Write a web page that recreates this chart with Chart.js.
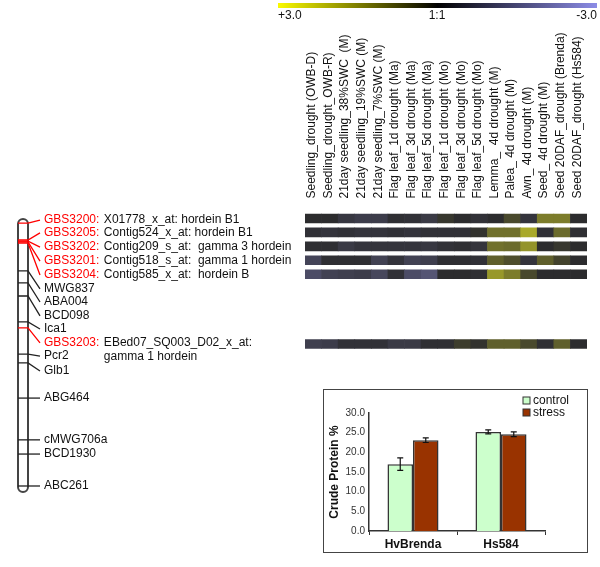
<!DOCTYPE html>
<html>
<head>
<meta charset="utf-8">
<script src="https://cdn.jsdelivr.net/npm/chart.js@4.4.1/dist/chart.umd.min.js"></script>
<style>
  body { margin: 0; background: #fff; }
  #wrap { position: relative; width: 600px; height: 567px; overflow: hidden; }
  #wrap canvas { position: absolute; left: 0; top: 0; }
  #box { position: absolute; left: 323px; top: 389px; width: 263px; height: 162px; border: 1.5px solid #444; }
</style>
</head>
<body>
<div id="wrap">
  <div id="box"></div>
  <canvas id="mapChart" width="600" height="567"></canvas>
  <canvas id="heatChart" width="600" height="567"></canvas>
  <canvas id="barChart" width="600" height="567"></canvas>
</div>
<script>
// genetic map (positions in cM from the top of the chromosome)
var markerNames = ['GBS3200', 'GBS3205', 'GBS3202', 'GBS3201', 'GBS3204', 'MWG837', 'ABA004', 'BCD098',
  'Ica1', 'GBS3203', 'Pcr2', 'Glb1', 'ABG464', 'cMWG706a', 'BCD1930', 'ABC261']
var markerPos = [1.5, 7.7, 8.1, 8.4, 8.8, 19.0, 23.4, 28.2, 37.7, 39.9, 49.5, 52.7, 65.6, 80.9, 86.1, 97.8]
var labelPos = [0.4, 5.1, 10.3, 15.4, 20.5, 25.6, 30.4, 35.5, 40.3, 45.4, 50.2, 55.7, 65.6, 80.9, 86.1, 97.8]
var probeNames = ['X01778_x_at: hordein B1', 'Contig524_x_at: hordein B1', 'Contig209_s_at:  gamma 3 hordein',
  'Contig518_s_at:  gamma 1 hordein', 'Contig585_x_at:  hordein B', '', '', '', '',
  'EBed07_SQ003_D02_x_at:\ngamma 1 hordein', '', '', '', '', '', '']

// heatmap columns and rows (log ratio, +3 yellow .. -3 blue)
var conditions = ['Seedling_drought (OWB-D)', 'Seedling_drought_OWB-R)', '21day seedling_38%SWC  (M)',
  '21day seedling_19%SWC (M)', '21day seedling_7%SWC (M)', 'Flag leaf_1d drought (Ma)',
  'Flag leaf_3d drought (Ma)', 'Flag leaf_5d drought (Ma)', 'Flag leaf_1d drought (Mo)',
  'Flag leaf_3d drought (Mo)', 'Flag leaf_5d drought (Mo)', 'Lemma_  4d drought (M)',
  'Palea_ 4d drought (M)', 'Awn_ 4d drought (M)', 'Seed_ 4d drought (M)',
  'Seed 20DAF_drought (Brenda)', 'Seed 20DAF_drought (Hs584)']
var heatSlots = [0, 1, 2, 3, 4, 9]
var rowGBS3200 = [0, 0, -0.4, -0.6, -0.6, -0.1, -0.2, -0.5, 0.2, 0, -0.2, 0, 0.5, -0.3, 1.4, 1.4, 0]
var rowGBS3205 = [-0.2, -0.3, -0.2, -0.3, -0.3, -0.2, -0.3, -0.2, -0.2, -0.2, 0.1, 1.2, 1.2, 2.2, -0.2, 1.1, -0.1]
var rowGBS3202 = [-0.1, -0.1, -0.5, -0.3, -0.3, -0.3, -0.3, -0.4, -0.2, -0.1, -0.3, 1.2, 1.1, 1.8, 0, 0.2, 0]
var rowGBS3201 = [-0.9, -0.1, -0.1, -0.1, -0.8, -0.3, -0.8, -0.7, -0.1, -0.1, -0.2, 0.9, 0.6, -0.3, 0.9, 0.4, 0]
var rowGBS3204 = [-1.2, -0.8, -0.7, -0.6, -1.0, -0.2, -1.2, -1.5, 0, 0, -0.1, 1.9, 1.4, 0.5, 0, 0, 0]
var rowGBS3203 = [-0.7, -0.6, -0.2, -0.2, -0.2, -0.5, -0.5, -0.1, -0.1, 0.3, 0.1, 0.9, 0.9, 0.5, -0.1, 0.9, 0]
var heatRows = [rowGBS3200, rowGBS3205, rowGBS3202, rowGBS3201, rowGBS3204, rowGBS3203]

// crude protein inset
var groups = ['HvBrenda', 'Hs584']
var controlVals = [17.0, 25.2]
var stressVals = [23.1, 24.6]
var controlErr = [1.6, 0.5]
var stressErr = [0.6, 0.6]

Chart.defaults.font.family = '"Liberation Sans", Arial, sans-serif'
Chart.defaults.font.size = 12
Chart.defaults.color = '#111'

function heatColor(v) {
  var base = [44, 44, 46]
  var end = v >= 0 ? [215, 215, 40] : [125, 125, 185]
  var t = Math.min(Math.abs(v) / 3, 1)
  var c = base.map((b, i) => Math.round(b + (end[i] - b) * t))
  return 'rgb(' + c.join(',') + ')'
}

// ---- genetic map ----
var chromPlugin = {
  id: 'chrom',
  beforeDatasetsDraw(chart) {
    var xs = chart.scales.x, ys = chart.scales.y, ctx = chart.ctx
    var x0 = xs.getPixelForValue(0), x1 = xs.getPixelForValue(1)
    var y0 = ys.getPixelForValue(0), y1 = ys.getPixelForValue(100)
    var r = (x1 - x0) / 2
    ctx.save()
    ctx.strokeStyle = '#444'
    ctx.lineWidth = 2
    ctx.beginPath()
    ctx.moveTo(x0, y0 + r)
    ctx.arc(x0 + r, y0 + r, r, Math.PI, 0)
    ctx.lineTo(x1, y1 - r)
    ctx.arc(x0 + r, y1 - r, r, 0, Math.PI)
    ctx.closePath()
    ctx.stroke()
    ctx.restore()
  },
  afterDraw(chart) {
    var xs = chart.scales.x, ys = chart.scales.y, ctx = chart.ctx
    ctx.save()
    ctx.font = '12px "Liberation Sans", Arial, sans-serif'
    ctx.textBaseline = 'middle'
    markerNames.forEach((name, i) => {
      var x = xs.getPixelForValue(2.6), y = ys.getPixelForValue(labelPos[i])
      var gbs = name.startsWith('GBS')
      var txt = gbs ? name + ':' : name
      ctx.fillStyle = gbs ? '#ff0000' : '#111'
      ctx.fillText(txt, x, y)
      if (probeNames[i]) {
        var dx = x + ctx.measureText(txt).width + 4.5
        ctx.fillStyle = '#111'
        probeNames[i].split('\n').forEach((line, k) => ctx.fillText(line, dx, y + k * 14))
      }
    })
    ctx.restore()
  }
}

new Chart(document.getElementById('mapChart'), {
  type: 'scatter',
  data: {
    datasets: markerNames.map((n, i) => ({
      data: [{x: 0, y: markerPos[i]}, {x: 1, y: markerPos[i]}, {x: 2.2, y: labelPos[i]}],
      showLine: true,
      pointRadius: 0,
      borderWidth: 1.3,
      borderColor: n.startsWith('GBS') ? '#ff0000' : '#222'
    }))
  },
  options: {
    responsive: false,
    animation: false,
    layout: {padding: {left: 18, right: 552, top: 219, bottom: 75}},
    plugins: {legend: {display: false}, tooltip: {enabled: false}},
    scales: {
      x: {display: false, min: 0, max: 3},
      y: {display: false, min: 0, max: 100, reverse: true}
    }
  },
  plugins: [chromPlugin]
})

// ---- heatmap ----
var scaleBarPlugin = {
  id: 'scaleBar',
  afterDraw(chart) {
    var ctx = chart.ctx
    ctx.save()
    var g = ctx.createLinearGradient(278, 0, 597, 0)
    g.addColorStop(0, 'rgb(250,250,0)')
    g.addColorStop(0.5, '#000')
    g.addColorStop(1, 'rgb(140,140,230)')
    ctx.fillStyle = g
    ctx.fillRect(278, 3, 319, 5)
    ctx.fillStyle = '#111'
    ctx.font = '12px "Liberation Sans", Arial, sans-serif'
    ctx.textBaseline = 'middle'
    ctx.textAlign = 'left'
    ctx.fillText('+3.0', 278, 16)
    ctx.textAlign = 'center'
    ctx.fillText('1:1', 437, 16)
    ctx.textAlign = 'right'
    ctx.fillText('-3.0', 597, 16)
    ctx.restore()
  }
}

new Chart(document.getElementById('heatChart'), {
  type: 'bar',
  data: {
    labels: conditions,
    datasets: heatRows.map((vals, r) => ({
      data: vals.map(() => [heatSlots[r] - 0.32, heatSlots[r] + 0.32]),
      backgroundColor: vals.map(heatColor),
      borderWidth: 0,
      grouped: false,
      barPercentage: 1,
      categoryPercentage: 1
    }))
  },
  options: {
    responsive: false,
    animation: false,
    layout: {padding: {left: 305, right: 13, top: 0, bottom: 209}},
    plugins: {legend: {display: false}, tooltip: {enabled: false}},
    scales: {
      x: {
        position: 'top',
        grid: {display: false, drawTicks: false},
        border: {display: false},
        ticks: {autoSkip: false, minRotation: 90, maxRotation: 90, padding: 6, labelOffset: 13, color: '#111'},
        afterFit: s => { s.height = 204.5 }
      },
      y: {display: false, min: -1, max: 10, reverse: true}
    }
  },
  plugins: [scaleBarPlugin]
})

// ---- crude protein bar chart ----
var errorBarPlugin = {
  id: 'errBars',
  afterDatasetsDraw(chart) {
    var ys = chart.scales.y, ctx = chart.ctx
    var errs = [controlErr, stressErr]
    ctx.save()
    ctx.strokeStyle = '#111'
    ctx.lineWidth = 1.2
    chart.data.datasets.forEach((ds, i) => {
      chart.getDatasetMeta(i).data.forEach((bar, j) => {
        var v = ds.data[j], e = errs[i][j]
        var yt = ys.getPixelForValue(v + e), yb = ys.getPixelForValue(v - e)
        ctx.beginPath()
        ctx.moveTo(bar.x, yt); ctx.lineTo(bar.x, yb)
        ctx.moveTo(bar.x - 3, yt); ctx.lineTo(bar.x + 3, yt)
        ctx.moveTo(bar.x - 3, yb); ctx.lineTo(bar.x + 3, yb)
        ctx.stroke()
      })
    })
    ctx.restore()
  }
}

var boxLegendPlugin = {
  id: 'boxLegend',
  afterDraw(chart) {
    var ctx = chart.ctx
    ctx.save()
    ctx.font = '12px "Liberation Sans", Arial, sans-serif'
    ctx.textBaseline = 'middle'
    chart.data.datasets.forEach((ds, i) => {
      var y = 400.5 + i * 12
      ctx.fillStyle = ds.backgroundColor
      ctx.fillRect(523, y - 3.5, 7, 7)
      ctx.strokeStyle = '#333'
      ctx.lineWidth = 1
      ctx.strokeRect(523, y - 3.5, 7, 7)
      ctx.fillStyle = '#111'
      ctx.fillText(ds.label, 533, y)
    })
    ctx.restore()
  }
}

new Chart(document.getElementById('barChart'), {
  type: 'bar',
  data: {
    labels: groups,
    datasets: [
      {label: 'control', data: controlVals, backgroundColor: '#ccffcc', borderColor: '#333', borderWidth: 1.5},
      {label: 'stress', data: stressVals, backgroundColor: '#993300', borderColor: '#333', borderWidth: 1.5}
    ]
  },
  options: {
    responsive: false,
    animation: false,
    layout: {padding: {left: 323, right: 55, top: 413, bottom: 16}},
    datasets: {bar: {barPercentage: 1, categoryPercentage: 0.58}},
    plugins: {legend: {display: false}, tooltip: {enabled: false}},
    scales: {
      x: {
        grid: {display: true, drawOnChartArea: false, offset: true, tickLength: 4, color: '#333'},
        border: {color: '#333', width: 1.5},
        ticks: {font: {weight: 'bold', size: 12}, color: '#111', padding: 2},
        afterFit: s => { s.height = 20 }
      },
      y: {
        min: 0, max: 30,
        grid: {display: false, drawTicks: false},
        border: {display: true, color: '#333', width: 1.5},
        ticks: {stepSize: 5, callback: v => v.toFixed(1), font: {size: 10}, color: '#333', padding: 4},
        title: {display: true, text: 'Crude Protein %', font: {weight: 'bold', size: 12}, color: '#111', padding: {top: 4, bottom: 4}},
        afterFit: s => { s.width = 46 }
      }
    }
  },
  plugins: [errorBarPlugin, boxLegendPlugin]
})
</script>
</body>
</html>
